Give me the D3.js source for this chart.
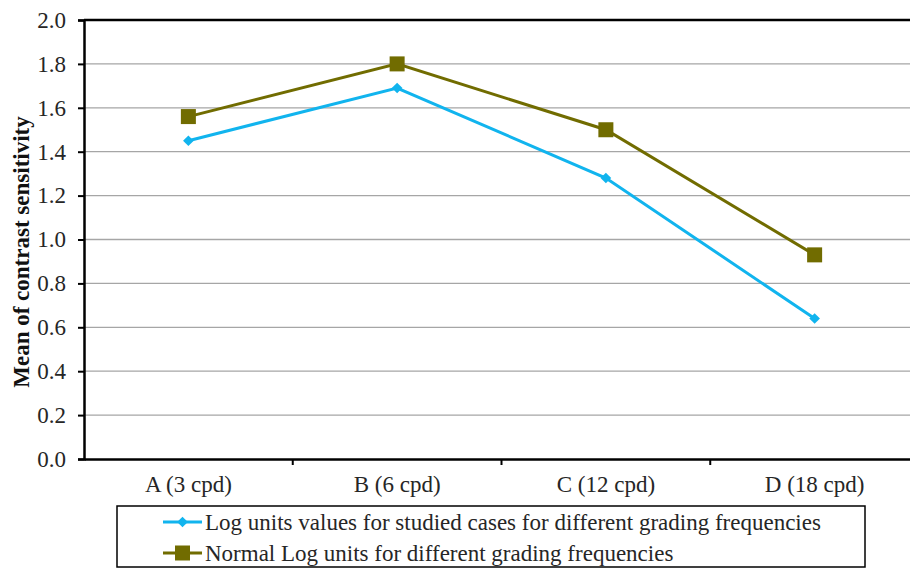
<!DOCTYPE html>
<html lang="en">
<head>
  <meta charset="UTF-8" />
  <title>Mean of contrast sensitivity</title>
  <style>
    body { margin: 0; background: #fff; }
    svg { display: block; font-family: 'Liberation Serif', 'Times New Roman', serif; }
    .grid line { stroke: #a6a6a6; stroke-width: 1.3; }
    .axis path, .axis line { stroke: #000; }
    .axis text { font-family: 'Liberation Serif', 'Times New Roman', serif; font-size: 23px; fill: #262626; }
  </style>
</head>
<body>
  <svg id="chart" width="910" height="568"></svg>
  <script src="https://d3js.org/d3.v7.min.js"></script>
  <script>
    // data
    const categories = ["A (3 cpd)", "B (6 cpd)", "C (12 cpd)", "D (18 cpd)"];
    const studiedValues = [1.45, 1.69, 1.28, 0.64];
    const normalValues = [1.56, 1.80, 1.50, 0.93];
    const yTicks = [0, 0.2, 0.4, 0.6, 0.8, 1.0, 1.2, 1.4, 1.6, 1.8, 2.0];
    const seriesNames = [
      "Log units values for studied cases for different grading frequencies",
      "Normal Log units for different grading frequencies"
    ];

    const svg = d3.select("#chart");
    // plot area runs a little past the right edge, as in the original
    const margin = { top: 20, left: 84 };
    const plotW = 835, plotH = 439;

    const g = svg.append("g").attr("transform", `translate(${margin.left},${margin.top})`);

    const x = d3.scaleBand().domain(categories).range([0, plotW]);
    const y = d3.scaleLinear().domain([0, 2]).range([plotH, 0]);

    // horizontal gridlines
    g.append("g").attr("class", "grid")
      .selectAll("line").data(yTicks.filter(d => d > 0 && d < 2)).join("line")
      .attr("x1", 0).attr("x2", plotW)
      .attr("y1", d => y(d)).attr("y2", d => y(d));

    // top border of plot area
    g.append("line").attr("x1", 0).attr("x2", plotW)
      .attr("y1", y(2)).attr("y2", y(2))
      .attr("stroke", "#000").attr("stroke-width", 2.5);

    // y axis
    const yAxis = g.append("g").attr("class", "axis")
      .call(d3.axisLeft(y).tickValues(yTicks).tickFormat(d3.format(".1f")).tickSize(6).tickPadding(12))
      .attr("font-family", "Liberation Serif").attr("font-size", 23);
    yAxis.select(".domain").attr("stroke-width", 2.5);
    yAxis.selectAll(".tick line").attr("stroke-width", 2);

    // x axis, ticks on band boundaries
    const xAxis = g.append("g").attr("class", "axis")
      .attr("transform", `translate(0,${plotH})`)
      .call(d3.axisBottom(x).tickSize(0).tickPadding(17))
      .attr("font-family", "Liberation Serif").attr("font-size", 23);
    xAxis.select(".domain").attr("stroke-width", 2.5);
    xAxis.selectAll(".bound").data(categories.slice(1)).join("line")
      .attr("x1", d => x(d)).attr("x2", d => x(d))
      .attr("y1", 0).attr("y2", 6)
      .attr("stroke", "#000").attr("stroke-width", 2);

    const cx = d => x(d) + x.bandwidth() / 2;
    const line = d3.line().x((d, i) => cx(categories[i])).y(d => y(d));

    const blue = "#11b4ee", olive = "#716c00";
    const diamond = d3.symbol(d3.symbolDiamond2, 72);

    // studied cases series
    g.append("path").datum(studiedValues)
      .attr("d", line).attr("fill", "none")
      .attr("stroke", blue).attr("stroke-width", 3);
    g.selectAll(".dia").data(studiedValues).join("path")
      .attr("d", diamond)
      .attr("transform", (d, i) => `translate(${cx(categories[i])},${y(d)})`)
      .attr("fill", blue);

    // normal series
    g.append("path").datum(normalValues)
      .attr("d", line).attr("fill", "none")
      .attr("stroke", olive).attr("stroke-width", 3);
    g.selectAll(".sq").data(normalValues).join("rect")
      .attr("x", (d, i) => cx(categories[i]) - 7.5)
      .attr("y", d => y(d) - 7.5)
      .attr("width", 15).attr("height", 15)
      .attr("fill", olive);

    // y axis title
    svg.append("text")
      .attr("transform", "translate(29,252) rotate(-90)")
      .attr("text-anchor", "middle")
      .attr("font-size", 23).attr("font-weight", "bold").attr("fill", "#111")
      .text("Mean of contrast sensitivity");

    // legend
    const legend = svg.append("g");
    legend.append("rect")
      .attr("x", 117).attr("y", 506).attr("width", 748).attr("height", 61)
      .attr("fill", "#fff").attr("stroke", "#000").attr("stroke-width", 1.5);
    const rows = [
      { name: seriesNames[0], color: blue, shape: "diamond", cy: 522 },
      { name: seriesNames[1], color: olive, shape: "square", cy: 553 }
    ];
    rows.forEach(r => {
      legend.append("line")
        .attr("x1", 163).attr("x2", 202).attr("y1", r.cy).attr("y2", r.cy)
        .attr("stroke", r.color).attr("stroke-width", 3);
      if (r.shape === "diamond") {
        legend.append("path")
          .attr("d", diamond)
          .attr("transform", `translate(182.5,${r.cy})`).attr("fill", r.color);
      } else {
        legend.append("rect")
          .attr("x", 175).attr("y", r.cy - 7.5).attr("width", 15).attr("height", 15)
          .attr("fill", r.color);
      }
      legend.append("text")
        .attr("x", 205).attr("y", r.cy + 7.5)
        .attr("font-size", 23).attr("fill", "#262626")
        .text(r.name);
    });
  </script>
</body>
</html>
